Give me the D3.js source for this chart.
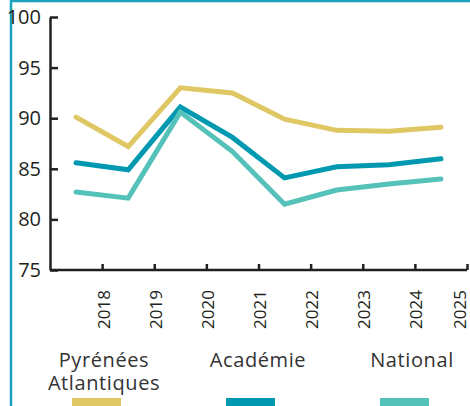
<!DOCTYPE html>
<head>
	<meta charset="utf-8">
	<title>Taux</title>
	<style>
		body {
			margin: 0;
			background: #fff;
			font-family: 'Open Sans', sans-serif;
		}
		.axis path, .axis line {
			stroke: #231f20;
			stroke-width: 2.5px;
		}
		.axis text {
			fill: #231f20;
			font-family: 'Open Sans', sans-serif;
		}
		.legend text {
			fill: #333;
			font-size: 20px;
			letter-spacing: 0.6px;
			text-anchor: middle;
			font-family: 'Open Sans', sans-serif;
		}
	</style>
</head>
<body>
<script src="https://d3js.org/d3.v7.min.js"></script>
<script>

var width = 470;
var height = 406;

// data
var years = ["2018", "2019", "2020", "2021", "2022", "2023", "2024", "2025"];
var pyrenees = [90.1, 87.2, 93.0, 92.5, 89.9, 88.8, 88.7, 89.1];
var academie = [85.6, 84.9, 91.1, 88.1, 84.1, 85.2, 85.4, 86.0];
var national = [82.7, 82.1, 90.6, 86.7, 81.5, 82.9, 83.5, 84.0];
var seriesNames = ["Pyrénées\nAtlantiques", "Académie", "National"];
var seriesColors = ["#dfc764", "#0099b0", "#55c2b9"];
var yTicks = [75, 80, 85, 90, 95, 100];

var svg = d3.select("body")
	.append("svg")
	.attr("width", width)
	.attr("height", height);

// frame (left + top teal border)
svg.append("path")
	.attr("d", "M11,406V1H470")
	.attr("fill", "none")
	.attr("stroke", "#1ba3bb")
	.attr("stroke-width", 2.5);

var mLeft = 50, mRight = 467, mTop = 17, mBottom = 270;

var x = d3.scaleBand().domain(years).range([mLeft, mRight]).padding(0);
var xTick = d3.scalePoint().domain(years).range([mLeft + x.bandwidth(), mRight]);
var y = d3.scaleLinear().domain([75, 100]).range([mBottom, mTop]);

// y axis, ticks pointing inside
var yAxis = svg.append("g")
	.attr("class", "axis")
	.attr("transform", "translate(" + mLeft + ",0)")
	.call(d3.axisRight(y).tickValues(yTicks).tickSize(8).tickSizeOuter(0));
yAxis.selectAll("text")
	.attr("x", -9)
	.attr("text-anchor", "end")
	.style("font-size", "20px");

// x axis: ticks at band edges, pointing up
var xAxis = svg.append("g")
	.attr("class", "axis")
	.attr("transform", "translate(0," + mBottom + ")")
	.call(d3.axisTop(xTick).tickSize(6).tickSizeOuter(0));
xAxis.select(".domain").attr("d", "M" + mLeft + ",0H" + mRight);
xAxis.selectAll("text")
	.attr("transform", "rotate(-90)")
	.attr("x", -20)
	.attr("y", function(d, i) { return i == years.length - 1 ? -7 : 1; })
	.attr("dy", "0.35em")
	.attr("text-anchor", "end")
	.style("font-size", "17px");

// lines
var line = d3.line()
	.x(function(d, i) { return x(years[i]) + x.bandwidth() / 2; })
	.y(function(d) { return y(d); });

[pyrenees, academie, national].forEach(function(s, k) {
	svg.append("path")
		.datum(s)
		.attr("fill", "none")
		.attr("stroke", seriesColors[k])
		.attr("stroke-width", 5)
		.attr("stroke-linecap", "round")
		.attr("stroke-linejoin", "miter")
		.attr("d", line);
});

// legend
var legendX = [104, 258, 412];
var legend = svg.append("g").attr("class", "legend");
seriesNames.forEach(function(name, k) {
	var t = legend.append("text").attr("x", legendX[k]).attr("y", 367);
	name.split("\n").forEach(function(part, j) {
		t.append("tspan").attr("x", legendX[k]).attr("dy", j == 0 ? 0 : 23).text(part);
	});
	legend.append("rect")
		.attr("x", legendX[k] - 32)
		.attr("y", 398)
		.attr("width", 49)
		.attr("height", 9)
		.attr("fill", seriesColors[k]);
});

</script>
</body>
</html>
